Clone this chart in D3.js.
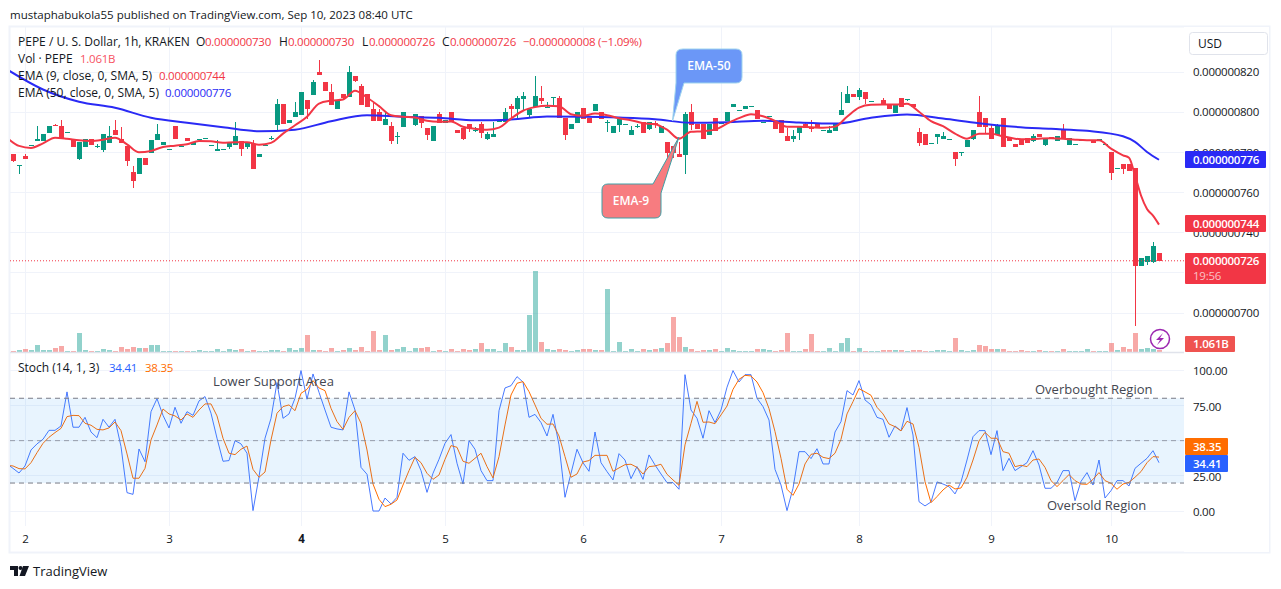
<!DOCTYPE html>
<html>
<head>
<meta charset="utf-8">
<script src="https://cdn.jsdelivr.net/npm/d3@7"></script>
<style>
  html, body { margin: 0; padding: 0; background: #fff; }
  text { font-family: "Open Sans", sans-serif; }
  .num { font-size: 11.5px; letter-spacing: -0.25px; }
</style>
</head>
<body>
<script>
// prices are in units of 0.000000001 USD, volume in billions of PEPE
const opens = [779,773.8,778,783.8,785.7,785.7,789.7,793.7,793,790,786,776.5,782.7,786.8,783,781.3,784.7,791,786.8,783,770,769.3,777.3,779.7,786.3,783.5,781.8,793,783,787,783.5,786.8,787.2,783.8,780.7,781.5,782.7,783.5,785.7,782.7,784,777.7,783.7,787.3,793.5,804,794.7,797.7,798.5,806,808.7,820,815,810,801.7,809,807.7,818,813,809,801.8,800,793.7,793,788,792.7,798,793.5,798,792,785.7,799,794.7,800,791,792,794,791,794,786.5,787.7,795.7,795.3,803,801.5,806.7,798.5,802.5,807,802.7,807.8,807,797,791.7,794.5,802,797,800.7,800,795.2,789.7,793.7,794,788.7,793,795,791.7,794.7,789.7,785,783,779,778.7,800,794,794,788.7,797,794.7,795.7,802.7,801,801.7,803,801,795,798,795,796,788,786.7,789.7,794,792.7,794,791,789.7,790.7,798.7,804.7,809,807.7,810,805.7,804,806,803.5,799.7,807,806.7,804,790,789,784.7,787.7,786.7,786.8,780,780,782.7,786.5,800,797,792,788.7,797,787,784,786.7,787,785.7,789,783.5,787.5,785.7,791,783.7,784,786,786,786.3,786.8,784,780,772,774,774,772,723.3,725.2,725.2,730]
const highs = [779,773.8,779.3,783.8,793,789,793,794,796,790,786,785.2,786.8,786.8,784.3,789,793,796,792.7,783,773,777.3,777.3,786,794,785,781.8,793,783,787,785,786.8,787.2,783.8,786,781.5,784.8,795,785.7,785,786.3,779,783.7,788,806.8,804,796,805,810,806,816,826,815,814,806,809,823,818,814,809,804.7,801.8,800,795,790,800,798,799,798,792,793,800,796,800,791,792,794,792.7,795.2,790,795.2,795.7,802,804,808,810,801.8,818,813,805,807.8,808,797,794,800,802,797,804,800,796,793,797,794,793,794,795,795,795.7,793,785,783,785,800,804,794,794,794,797,794.7,800,804,801,803,803,801,795,798,795,796,792,791,793,795.3,796,794,791,793,794,810,813,809,812,810,805.7,804,807,803.5,804,807,806.7,804,792,789,784.7,789,790,786.8,780,780,786,791,808,797,794,794.3,797,787,784,786.7,787,789,789,787,787.5,788,794,787,784,786,786,786.3,786.8,784,780,772,774,774,772,727.3,728.5,735.5,730]
const lows = [775.2,769,776.7,783.8,785.7,785.7,789.7,793,786.8,790,782.7,776,782.7,783.5,782.3,780.2,784.7,788.5,784.7,773,762,769.3,773.5,779.7,786.3,783.5,781.8,786.7,783,785.7,783.5,786.8,787.2,783.8,780.7,781.5,781.8,783.5,778,781.7,771.7,777.7,783.7,786.3,791,794.3,794.7,797.7,798.5,796.8,808.7,818.7,810.7,803.7,801.7,806,807.7,815,803.7,802.7,795.7,795.7,793.7,784,784,792.7,798,793,792,786,785.7,794.7,794.7,795,789.7,786,790,790.3,787,786,787.7,795.7,795.3,796.3,796.8,801,797,802.5,804,802,803.5,797.3,786,791.7,794.5,796.7,794.7,800.7,796.7,790,789.7,790,794,788.7,792,789.7,791,792,789.7,774,777,777.7,769,791,791.7,786.5,788.7,790.7,794.7,795.7,802.7,801,801.7,803,796.7,795,798,791.7,789.7,785.7,785,786,792.3,790,792.3,791,789.7,790.7,798.7,804.7,807.7,806,804,805.7,804,804.3,801.7,799.7,802.7,805.7,802.7,783,783.7,784.7,784,786.7,786.8,773,778,782.7,786,792.7,789.7,786.5,788.7,782.7,785.7,782.7,783.7,784.7,785,787.7,783,787,785.7,786.5,783.7,784,786,786,784.7,786.8,784,766,772,769,770.7,693.5,723.3,723.7,724.7,726]
const closes = [775.5,773.8,776.7,783.8,786.8,789,793,793,786.8,790,782.7,785.2,786.8,783.5,783,789,788,788.5,784.7,775.7,765.7,777.3,773.5,786,789,785,781.8,786.7,783,785.7,785,786.8,787.2,783.8,781.8,781.5,784.8,788,781.8,785,771.7,779,783.7,787.3,804,794.3,796,800,810,801.5,815,818.7,810.7,803.7,806,807.3,820,815.7,803.7,802.7,795.7,795.7,796.8,785.7,788,800,798,799,794.7,788.7,793,794.7,796,795,789.7,786.5,791.7,791,789.7,789,789,795.7,800,801.7,807,808,801.8,808,805.7,802.7,807.8,797.3,788.7,794,800,796.7,794.7,804,796.7,795.2,793,797,794,791,793,789.7,795,794.3,793,779.7,779.7,777.7,799,793.7,791.7,786.5,794,790.7,794.7,800,804,801,803,803,796.7,795,798,791.7,789.7,785.7,788,793,792.3,791.7,792.3,791,791,794,801,809,807.7,811,806.5,805.7,804,804.3,801.7,804,802.7,806.7,802.7,784.7,783.7,784.7,789,788,786.8,776.7,780,786,791,792.7,792.7,786.5,793,782.7,785.7,782.7,783.7,784.7,788,787.7,787,787.2,788,786.5,787,784,786,786,784.7,786.8,784,769.7,772,771.7,770.7,723.3,727.3,728.5,733.5,726]
const volumes = [0.6,1.2,1.8,1.2,4.2,1.2,1.2,2.4,3.6,0.6,0.6,11.4,1.2,0.6,0.6,1.8,1.2,0.6,3,1.8,3,2.4,2.4,4.2,4.2,0.6,0.6,0.6,0.6,0.6,0.6,1.2,0.6,0.6,1.8,0.6,1.8,1.2,1.8,0.6,1.2,0.6,0.6,1.2,1.2,0.6,2.4,1.2,2.4,10.2,1.2,1.2,0.6,2.4,0.6,1.2,2.4,1.2,3,0.6,12.6,1.2,10.2,1.2,1.8,3,0.6,2.4,2.4,3,0.6,1.2,0.6,1.8,0.6,1.8,1.2,1.8,5.4,1.8,1.8,0.6,5.4,3,1.2,1.2,22.2,48.6,6,1.8,1.2,1.8,1.2,0.6,1.2,1.8,1.8,1.2,1.2,37.8,0.6,6,0.6,1.8,0.6,2,1.2,1.8,2.4,5.4,21,9,3,1.8,0.6,1.2,1.2,1.8,0.6,2.4,1.2,0.6,0.6,0.6,1.8,1.8,1.2,0.6,1.2,11.4,0.6,0.6,1.8,10.8,0.6,0.6,2.4,0.6,5.4,8.4,0.6,2.4,0.6,0.6,0.6,1.2,1.2,1.2,1.2,0.6,1.2,1.2,0.6,0.6,1.2,1.2,0.6,8.4,1.2,0.6,1.2,4.2,3.6,1.8,1.8,1.8,0.6,0.6,1.2,0.6,0.6,1.2,0.6,0.6,0.6,1.8,0.6,0.6,0.6,1.8,0.6,0.6,0.6,5.4,1.2,3,1.8,11.4,1.8,2.4,1.8,1.061]

// moving averages, read at these bars (the first one sits just left of the pane)
const ema9Bars = d3.range(-1, 186, 2).concat([186, 187, 188, 189, 190, 191])
const ema9 = [787.3,783.2,782.2,784.5,787.3,786.8,786,785.7,786.3,787.3,784,780,780.7,782.7,783.3,784,785.7,785.5,784.8,785,785,783.8,784.7,789.3,793.5,797.7,804.3,805.7,806.3,810.7,807.3,803,798.5,797.7,797.3,795.7,795.2,795.3,792.7,791.7,791.2,792.3,796.8,800.7,802.5,803.2,803,799,798.2,799.3,798.5,797,796,794.5,794,791.3,786.8,790.2,790.5,791.3,794.3,797,799,798,795.7,792.7,792.7,792.5,792.3,792.8,797.7,802.3,803.7,803.8,803.8,804.2,800.2,795.5,793,789.3,786.8,789.3,789.3,788,786.8,786.5,786.8,787,786.8,786.3,786,786,781.8,778.5,777.3,768.5,758.5,751.8,748.5,744]
const ema50Bars = d3.range(-1, 186, 6).concat([187, 189, 191])
const ema50 = [821.3,811.3,805.2,802.2,797.2,794.7,792.5,790.5,791.3,795.5,798.5,797.7,797.2,796,796.3,797.8,797.7,797.3,796.5,794.7,795,795.7,794.8,794.3,797.2,798.8,796.8,794.5,792.7,791.7,790.7,788,785.2,780.2,776.3]

// stochastic, one value per bar starting at bar -1
const stochK = [33.5,30.4,27.1,32.1,43.4,47.7,51,57.3,57.3,60.4,84.5,59.5,59.5,66.5,56.1,52.1,65.1,59.5,65.1,45.8,13.2,12,44.1,35.1,70.5,79.7,67.9,59,73.6,62.3,70.5,67.9,78.1,81.2,69.4,51.7,35.4,35.9,50,47.7,41.1,0.5,24.5,51.7,65.8,91.1,65.8,68.9,80,99.6,79.3,97.2,84.2,71.7,59.5,58.3,57.6,84.5,71.7,31.1,26.2,0.2,0.2,9.4,5.2,9.9,41.1,36.1,38.7,28.8,13.4,26.9,36.8,48.1,54.3,34,19.3,50,43.9,28.8,21.7,21.7,71.2,87.3,88.9,95.3,91.5,66.5,68.6,62.8,53.3,68.6,47,9.9,26.9,43.9,34.4,28.3,56.1,34.4,28.1,22.2,40.8,36.3,23.1,31.6,22.6,39.9,32.8,26.4,20.3,20.3,15.6,96.7,71.7,65.8,51.7,71.2,62.8,71.7,87.8,99.6,91.5,96.7,96.7,80,74.1,64.6,29.7,18.6,0.5,16.3,42.2,42.2,37.3,44.3,33.5,33.5,56.1,63.5,85.4,82.3,92.5,78.8,75.3,66.5,65.1,52.4,60.4,56.9,73.4,54,6.8,3.8,6.6,20.8,19.3,17.5,12.3,20.8,36.3,52.8,57.1,57.1,40.1,57.1,28.8,37.5,28.8,31.6,34.4,42.9,32.8,16.3,16.3,20.3,28.8,28.8,7.5,21.2,27.4,18.6,36.3,9.4,14.6,21.7,21.7,17.9,30.4,34,37.5,42.9,34.41]
const stochD = [32.5,32.1,30.2,30,34.4,41.5,48.1,52.4,55.7,58.7,67,67.9,67.7,62.3,60.9,58,57.6,59,63.2,57.1,40.6,23.4,23.4,30.4,50.5,61.1,72.4,68.9,67.5,64.6,68.9,66.5,71.7,76,76,67.5,51.7,41.1,40.1,43.9,46.2,29.7,24.1,27.8,50.5,69.4,74.1,75.3,71.2,83.5,86.3,92.5,87.3,85.4,72.9,63.5,58,66.5,71.2,62.3,43.4,19.3,8.5,3.3,5,8,18.6,28.8,38.2,34.4,26.9,22.6,25.7,36.8,46.5,45.3,35.4,34,37.5,41.1,31.6,23.6,38.7,61.1,82.3,90.6,91.8,84.7,75.3,65.8,61.6,61.8,53.3,38.7,24.1,26.4,34.9,35.9,39.6,39.6,39.6,28.3,30.7,33,33.3,31.1,26.4,31.6,32.1,33.3,26.2,22.2,18.4,47,62.3,77.8,63,63.2,62,68.2,74.5,86.3,93.4,96.2,95.8,91.5,84,72.7,56.4,37.5,15.6,11.3,19.3,33.5,40.3,41.1,38.2,37.3,41.1,51,68.9,77.6,86.8,84.5,82.1,73.6,68.9,61.8,59.9,56.9,63.7,61.8,45.3,21,6.1,10.4,15.1,18.6,15.8,16.5,24.1,36.3,49.8,55.9,51.7,51.7,42.2,41.1,31.6,32.6,31.6,36.3,37,31.1,21.7,17.5,21.7,26,21.7,19.3,19.1,22.6,27.4,21.7,19.8,15.6,19.3,20.5,24.1,28.1,34.4,38.7,38.35]

const priceTicks = [700, 720, 740, 760, 780, 800, 820]
const stochTicks = [0, 25, 50, 75, 100]
const dayBars = [2, 26, 48, 72, 95, 118, 141, 163, 183]
const dayLabels = ["2", "3", "4", "5", "6", "7", "8", "9", "10"]

const GREEN = "#089981", RED = "#f23645", EMA_BLUE = "#2a2af5", K_BLUE = "#2962ff", D_ORANGE = "#ff6d00"
const GRID = "#f0f3fa", INK = "#131722"

const svg = d3.select("body").append("svg")
    .attr("width", 1281)
    .attr("height", 589)
    .style("display", "block")

const x = d3.scaleLinear().domain([0, 191]).range([13, 1159])
const yPrice = d3.scaleLinear().domain([700, 820]).range([313, 72])
const yVol = d3.scaleLinear().domain([0, 50]).range([352, 268.7])
const yStoch = d3.scaleLinear().domain([0, 100]).range([511.3, 370])

svg.append("clipPath").attr("id", "plot")
    .append("rect").attr("x", 10).attr("y", 27).attr("width", 1174).attr("height", 499)

// frame
svg.append("rect")
    .attr("x", 9.5).attr("y", 26.5).attr("width", 1260).attr("height", 526)
    .attr("fill", "#fff").attr("stroke", GRID).attr("stroke-width", 2)

svg.append("text").attr("x", 10).attr("y", 19)
    .attr("font-size", 11.5).attr("fill", INK)
    .text("mustaphabukola55 published on TradingView.com, Sep 10, 2023 08:40 UTC")

// grid
const grid = svg.append("g").attr("stroke", GRID).attr("shape-rendering", "crispEdges")
grid.selectAll(".v").data(dayBars).enter().append("line")
    .attr("x1", d => x(d)).attr("x2", d => x(d)).attr("y1", 27).attr("y2", 526)
grid.selectAll(".p").data(priceTicks).enter().append("line")
    .attr("x1", 10).attr("x2", 1184).attr("y1", d => yPrice(d)).attr("y2", d => yPrice(d))
grid.selectAll(".s").data(stochTicks).enter().append("line")
    .attr("x1", 10).attr("x2", 1184).attr("y1", d => yStoch(d)).attr("y2", d => yStoch(d))

const plot = svg.append("g").attr("clip-path", "url(#plot)")

// volume
plot.append("g").attr("shape-rendering", "crispEdges").selectAll("rect")
    .data(volumes).enter().append("rect")
    .attr("x", (d, i) => x(i) - 2)
    .attr("width", 5)
    .attr("y", d => yVol(d))
    .attr("height", d => 352 - yVol(d))
    .attr("fill", (d, i) => closes[i] < opens[i] ? "#ef5350" : "#26a69a")
    .attr("fill-opacity", 0.5)

// candles
const candles = plot.append("g").attr("shape-rendering", "crispEdges")
candles.selectAll(".wick").data(opens).enter().append("rect")
    .attr("x", (d, i) => x(i))
    .attr("width", 1)
    .attr("y", (d, i) => yPrice(highs[i]))
    .attr("height", (d, i) => Math.max(1, yPrice(lows[i]) - yPrice(highs[i])))
    .attr("fill", (d, i) => closes[i] < opens[i] ? RED : GREEN)
candles.selectAll(".body").data(opens).enter().append("rect")
    .attr("x", (d, i) => x(i) - 2)
    .attr("width", 5)
    .attr("y", (d, i) => yPrice(Math.max(d, closes[i])))
    .attr("height", (d, i) => Math.max(1, Math.abs(yPrice(d) - yPrice(closes[i]))))
    .attr("fill", (d, i) => closes[i] < opens[i] ? RED : GREEN)

// ema lines
const emaLine = bars => d3.line()
    .x((d, i) => x(bars[i]))
    .y(d => yPrice(d))
    .curve(d3.curveMonotoneX)
plot.append("path").attr("d", emaLine(ema50Bars)(ema50))
    .attr("fill", "none").attr("stroke", EMA_BLUE).attr("stroke-width", 2)
plot.append("path").attr("d", emaLine(ema9Bars)(ema9))
    .attr("fill", "none").attr("stroke", RED).attr("stroke-width", 2)

// last price
svg.append("line")
    .attr("x1", 10).attr("x2", 1184).attr("y1", yPrice(726)).attr("y2", yPrice(726))
    .attr("stroke", RED).attr("stroke-dasharray", "1,2")

// stochastic pane
svg.append("rect")
    .attr("x", 10).attr("width", 1174)
    .attr("y", yStoch(80)).attr("height", yStoch(20) - yStoch(80))
    .attr("fill", "#2196f3").attr("fill-opacity", 0.1)
svg.selectAll(".band").data([80, 50, 20]).enter().append("line")
    .attr("x1", 10).attr("x2", 1184)
    .attr("y1", d => yStoch(d)).attr("y2", d => yStoch(d))
    .attr("stroke", "#787b86").attr("stroke-dasharray", "5,4")
    .attr("stroke-opacity", d => d == 50 ? 0.7 : 1)
const stochLine = d3.line().x((d, i) => x(i - 1)).y(d => yStoch(d))
plot.append("path").attr("d", stochLine(stochK))
    .attr("fill", "none").attr("stroke", K_BLUE).attr("stroke-width", 1).attr("stroke-opacity", 0.85)
plot.append("path").attr("d", stochLine(stochD))
    .attr("fill", "none").attr("stroke", D_ORANGE).attr("stroke-width", 1)

// pane separator
svg.append("line").attr("x1", 10).attr("x2", 1184).attr("y1", 352.5).attr("y2", 352.5)
    .attr("stroke", "#e0e3eb").attr("stroke-width", 1.5)

// legend
const legend = (tx, ty, str, fill) => svg.append("text")
    .attr("x", tx).attr("y", ty).attr("font-size", 12).attr("fill", fill).text(str)
const legendNum = (tx, ty, str, fill) => legend(tx, ty, str, fill).attr("class", "num")
legend(18, 46, "PEPE / U. S. Dollar, 1h, KRAKEN", INK)
legend(196, 46, "O", INK); legendNum(205, 46, "0.000000730", RED)
legend(279, 46, "H", INK); legendNum(288, 46, "0.000000730", RED)
legend(362, 46, "L", INK); legendNum(369, 46, "0.000000726", RED)
legend(442, 46, "C", INK); legendNum(450, 46, "0.000000726", RED)
legendNum(523, 46, "−0.000000008 (−1.09%)", RED)
legend(18, 63, "Vol · PEPE", INK); legendNum(80, 63, "1.061B", "#f7525f")
legend(18, 80, "EMA (9, close, 0, SMA, 5)", INK); legendNum(159, 80, "0.000000744", RED)
legend(18, 97, "EMA (50, close, 0, SMA, 5)", INK); legendNum(165, 97, "0.000000776", EMA_BLUE)
legend(18, 372, "Stoch (14, 1, 3)", INK); legendNum(109, 372, "34.41", K_BLUE); legendNum(145, 372, "38.35", D_ORANGE)

// notes written on the chart
const note = (tx, ty, str) => svg.append("text")
    .attr("x", tx).attr("y", ty).attr("font-size", 13).attr("fill", "#434651").text(str)
note(213, 386, "Lower Support Area")
note(1035, 394, "Overbought Region")
note(1047, 510, "Oversold Region")

// callouts
svg.append("path")
    .attr("d", "M683 49 H736 Q742 49 742 55 V77 Q742 83 736 83 H684 L672.5 121 L676 83 V55 Q676 49 683 49 Z")
    .attr("fill", "#6b97f7").attr("stroke", "#9fd4ee").attr("stroke-width", 1)
svg.append("text").attr("x", 709).attr("y", 69.5).attr("text-anchor", "middle")
    .attr("font-size", 12).attr("font-weight", 600).attr("fill", "#fff").text("EMA-50")
svg.append("path")
    .attr("d", "M608 184 H653 L679 137 L661 193 V212 Q661 218 655 218 H608 Q602 218 602 212 V190 Q602 184 608 184 Z")
    .attr("fill", "#f77c80").attr("stroke", "#3f9fa5").attr("stroke-width", 1)
svg.append("text").attr("x", 631).attr("y", 205).attr("text-anchor", "middle")
    .attr("font-size", 12).attr("font-weight", 600).attr("fill", "#fff").text("EMA-9")

// bolt badge
svg.append("circle").attr("cx", 1160).attr("cy", 339).attr("r", 9.5)
    .attr("fill", "#fff").attr("fill-opacity", 0.7).attr("stroke", "#9c27b0").attr("stroke-width", 1.5)
svg.append("path").attr("d", "M1163 333 L1156 340 H1160 L1157 345 L1164 338 H1160 Z").attr("fill", "#9c27b0")

// axes
svg.append("rect").attr("x", 1184).attr("y", 27).attr("width", 85).attr("height", 525).attr("fill", "#fff")
const priceAxis = svg.append("g").attr("transform", "translate(1184,0)")
    .call(d3.axisRight(yPrice).tickValues(priceTicks).tickSize(0).tickPadding(9)
        .tickFormat(d => (d / 1e9).toFixed(9)))
const stochAxis = svg.append("g").attr("transform", "translate(1184,1)")
    .call(d3.axisRight(yStoch).tickValues(stochTicks).tickSize(0).tickPadding(9)
        .tickFormat(d => d.toFixed(2)))
const timeAxis = svg.append("g").attr("transform", "translate(0,526)")
    .call(d3.axisBottom(x).tickValues(dayBars).tickSize(0).tickPadding(9)
        .tickFormat((d, i) => dayLabels[i]))
timeAxis.selectAll("text").attr("font-weight", (d, i) => dayLabels[i] == "4" ? 700 : 400)
for (const ax of [priceAxis, stochAxis, timeAxis]) {
    ax.select(".domain").remove()
    ax.selectAll("text").attr("class", "num").attr("font-family", "Open Sans").attr("fill", INK)
}

// axis tags
const tag = (y0, y1, w, fill, str) => {
    svg.append("rect").attr("x", 1185).attr("y", y0).attr("width", w).attr("height", y1 - y0)
        .attr("fill", fill).attr("rx", 1)
    svg.append("text").attr("x", 1193).attr("y", (y0 + y1) / 2 + 4).attr("class", "num")
        .attr("font-weight", 600).attr("fill", "#fff").text(str)
}
tag(151, 168, 81, EMA_BLUE, "0.000000776")
tag(215, 232, 81, RED, "0.000000744")
svg.append("rect").attr("x", 1185).attr("y", 253).attr("width", 81).attr("height", 31).attr("fill", RED).attr("rx", 1)
svg.append("text").attr("x", 1193).attr("y", 265).attr("class", "num").attr("font-weight", 600)
    .attr("fill", "#fff").text("0.000000726")
svg.append("text").attr("x", 1193).attr("y", 280).attr("class", "num").attr("fill", "#fff")
    .attr("fill-opacity", 0.7).text("19:56")
tag(336, 352, 50, "#ef5350", "1.061B")
tag(438, 455, 43, D_ORANGE, "38.35")
tag(455, 472, 43, K_BLUE, "34.41")

// currency button
svg.append("rect").attr("x", 1189.5).attr("y", 32.5).attr("width", 78).attr("height", 22).attr("rx", 3)
    .attr("fill", "#fff").attr("stroke", "#e0e3eb")
svg.append("text").attr("x", 1198).attr("y", 48).attr("font-size", 12).attr("fill", INK).text("USD")

// footer logo
svg.append("path").attr("d", "M10 566 H18 V576 H14 V570 H10 Z M23 566 H29 L25 576 H19.5 Z").attr("fill", INK)
svg.append("circle").attr("cx", 20.5).attr("cy", 568).attr("r", 2).attr("fill", INK)
svg.append("text").attr("x", 33).attr("y", 576).attr("font-size", 13).attr("fill", INK).text("TradingView")
</script>
</body>
</html>
